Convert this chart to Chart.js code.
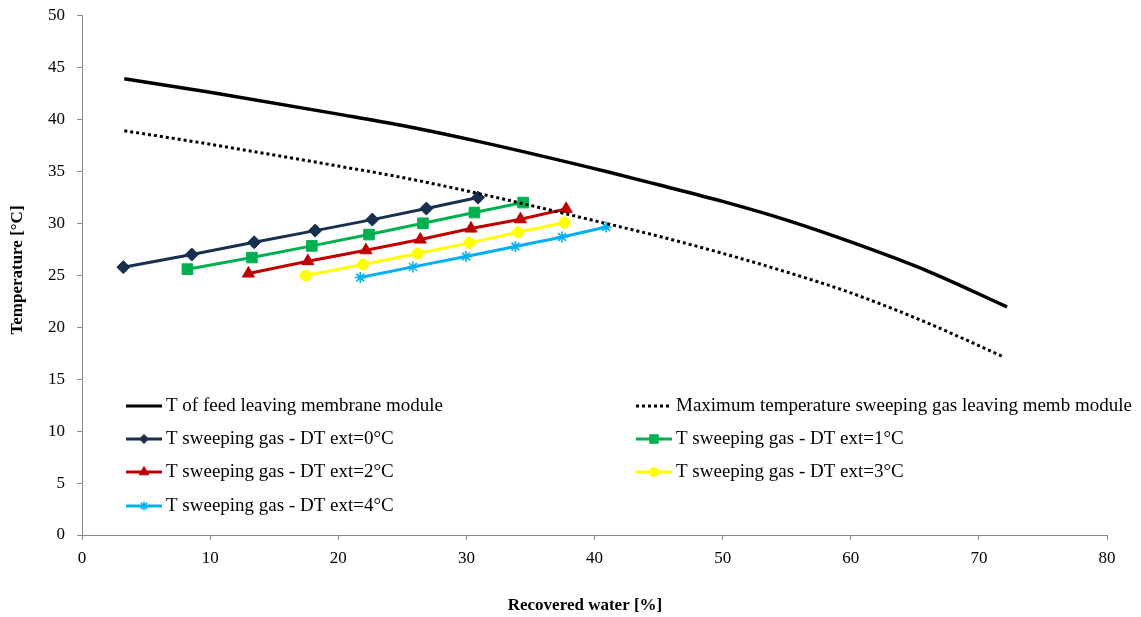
<!DOCTYPE html>
<html>
<head>
<meta charset="utf-8">
<script src="https://cdn.jsdelivr.net/npm/chart.js@4/dist/chart.umd.min.js"></script>
<style>
    html, body { margin: 0; padding: 0; background: #fff; }
    #wrap { width: 1141px; height: 617px; position: relative; }
</style>
</head>
<body>
<div id="wrap"><canvas id="chart"></canvas></div>
<script>
// curves
const feedX = [3.3, 10, 20, 25, 31, 41, 45, 50, 55, 60, 66, 72.2];
const feedT = [43.9, 42.6, 40.5, 39.4, 37.85, 34.95, 33.7, 32.1, 30.3, 28.2, 25.4, 21.95];
const maxGasX = [3.3, 10, 20, 25, 31, 41, 45, 50, 55, 60, 66, 71.9];
const maxGasT = [38.9, 37.6, 35.5, 34.4, 32.85, 29.95, 28.75, 27.1, 25.3, 23.3, 20.4, 17.15];

// sweeping gas series, DT ext = 0..4 °C
const dt0X = [3.23, 8.57, 13.44, 18.2, 22.66, 26.88, 30.91];
const dt0T = [25.77, 26.99, 28.17, 29.29, 30.35, 31.41, 32.47];
const dt1X = [8.23, 13.26, 17.94, 22.4, 26.61, 30.63, 34.43];
const dt1T = [25.58, 26.7, 27.82, 28.91, 30.0, 31.03, 31.99];
const dt2X = [12.99, 17.63, 22.16, 26.4, 30.36, 34.22, 37.79];
const dt2T = [25.16, 26.35, 27.4, 28.43, 29.49, 30.38, 31.38];
const dt3X = [17.47, 21.93, 26.2, 30.23, 34.04, 37.66];
const dt3T = [24.97, 26.03, 27.08, 28.11, 29.13, 30.07];
const dt4X = [21.72, 25.83, 29.97, 33.83, 37.47, 40.91];
const dt4T = [24.78, 25.8, 26.8, 27.76, 28.68, 29.64];

const xTicks = [0, 10, 20, 30, 40, 50, 60, 70, 80];
const yTicks = [0, 5, 10, 15, 20, 25, 30, 35, 40, 45, 50];

const labels = [
    'T of feed leaving membrane module',
    'Maximum temperature sweeping gas leaving memb module',
    'T sweeping gas - DT ext=0°C',
    'T sweeping gas - DT ext=1°C',
    'T sweeping gas - DT ext=2°C',
    'T sweeping gas - DT ext=3°C',
    'T sweeping gas - DT ext=4°C',
];

const toPoints = (xs, ys) => xs.map((x, i) => ({x: x, y: ys[i]}));

const serif = "'Liberation Serif', 'Times New Roman', serif";
const axisGrey = '#878787';

const sweep = (label, xs, ys, color, style, radius, legendRadius) => ({
    label: label,
    data: toPoints(xs, ys),
    showLine: true,
    borderColor: color,
    backgroundColor: color,
    borderWidth: 3,
    pointStyle: style,
    pointRadius: radius,
    pointHoverRadius: radius,
    pointBorderWidth: style === 'star' ? 1.6 : 1,
    pointBackgroundColor: color,
    pointBorderColor: color,
    legendRadius: legendRadius,
});

// two-column legend drawn inside the plot, like the original
const legendBox = {
    id: 'legendBox',
    afterDatasetsDraw(chart) {
        const ctx = chart.ctx;
        const cols = [126, 636];
        const rows = [406, 439, 472, 506];
        ctx.save();
        ctx.font = '19px ' + serif;
        ctx.textBaseline = 'middle';
        ctx.textAlign = 'left';
        chart.data.datasets.forEach((ds, i) => {
            const x = cols[i % 2];
            const y = rows[Math.floor(i / 2)];
            ctx.strokeStyle = ds.borderColor;
            ctx.lineWidth = 3;
            if (ds.borderDash) ctx.setLineDash(ds.borderDash);
            ctx.beginPath();
            ctx.moveTo(x, y);
            ctx.lineTo(x + 36, y);
            ctx.stroke();
            ctx.setLineDash([]);
            if (ds.pointRadius > 0) {
                ctx.fillStyle = ds.pointBackgroundColor;
                ctx.strokeStyle = ds.pointBorderColor;
                ctx.lineWidth = ds.pointBorderWidth;
                Chart.helpers.drawPoint(ctx, {
                    pointStyle: ds.pointStyle,
                    radius: ds.legendRadius,
                    rotation: 0,
                    borderWidth: ds.pointBorderWidth,
                }, x + 18, y);
            }
            ctx.fillStyle = '#000';
            ctx.fillText(ds.label, x + 40, y);
        });
        ctx.restore();
    },
};

// axis titles placed by hand
const axisTitles = {
    id: 'axisTitles',
    afterDraw(chart) {
        const ctx = chart.ctx;
        ctx.save();
        ctx.fillStyle = '#000';
        ctx.font = 'bold 17px ' + serif;
        ctx.textAlign = 'center';
        ctx.textBaseline = 'middle';
        ctx.fillText('Recovered water [%]', 585, 606);
        ctx.translate(18, 270);
        ctx.rotate(-Math.PI / 2);
        ctx.fillText('Temperature [°C]', 0, 0);
        ctx.restore();
    },
};

new Chart(document.getElementById('chart'), {
    type: 'scatter',
    data: {
        datasets: [
            {
                label: labels[0],
                data: toPoints(feedX, feedT),
                showLine: true,
                borderColor: '#000',
                backgroundColor: '#000',
                borderWidth: 3.5,
                pointRadius: 0,
                cubicInterpolationMode: 'monotone',
            },
            {
                label: labels[1],
                data: toPoints(maxGasX, maxGasT),
                showLine: true,
                borderColor: '#000',
                backgroundColor: '#000',
                borderWidth: 3,
                borderDash: [3, 3],
                pointRadius: 0,
                cubicInterpolationMode: 'monotone',
            },
            sweep(labels[2], dt0X, dt0T, '#17304f', 'rectRot', 6.5, 4.5),
            sweep(labels[3], dt1X, dt1T, '#00b050', 'rect', 7.5, 6),
            sweep(labels[4], dt2X, dt2T, '#c00000', 'triangle', 7, 5.5),
            sweep(labels[5], dt3X, dt3T, '#ffff00', 'circle', 5.5, 4.5),
            sweep(labels[6], dt4X, dt4T, '#00b0f0', 'star', 5.5, 4.5),
        ],
    },
    options: {
        responsive: true,
        maintainAspectRatio: false,
        animation: false,
        layout: {
            padding: {top: 0, right: 34, left: 0, bottom: 0},
        },
        scales: {
            x: {
                type: 'linear',
                min: 0,
                max: 80,
                afterFit: (scale) => { scale.height = 82; },
                afterBuildTicks: (scale) => { scale.ticks = xTicks.map(v => ({value: v})); },
                border: {display: true, color: axisGrey, width: 1},
                grid: {display: true, drawOnChartArea: false, drawTicks: true, tickLength: 5, color: axisGrey},
                ticks: {
                    color: '#000',
                    padding: 8,
                    maxRotation: 0,
                    font: {family: serif, size: 17},
                },
            },
            y: {
                type: 'linear',
                min: 0,
                max: 50,
                afterFit: (scale) => { scale.width = 82; },
                afterBuildTicks: (scale) => { scale.ticks = yTicks.map(v => ({value: v})); },
                border: {display: true, color: axisGrey, width: 1},
                grid: {display: true, drawOnChartArea: false, drawTicks: true, tickLength: 5, color: axisGrey},
                ticks: {
                    color: '#000',
                    padding: 12,
                    font: {family: serif, size: 17, lineHeight: 0.4},
                },
            },
        },
        plugins: {
            legend: {display: false},
            tooltip: {enabled: false},
        },
    },
    plugins: [legendBox, axisTitles],
});
</script>
</body>
</html>
